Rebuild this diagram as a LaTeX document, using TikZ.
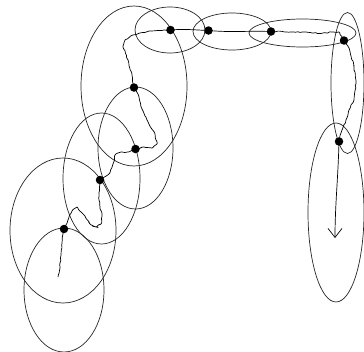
\documentclass[tikz,border=0pt]{standalone}
\usetikzlibrary{arrows.meta,decorations.pathmorphing}
\begin{document}
\begin{tikzpicture}[x=1pt,y=-1pt,
  region/.style={draw=black!85,line width=0.7pt},
  dot/.style={circle,fill=black,inner sep=0pt,minimum size=8.5pt},
  trail/.style={draw=black,line width=0.7pt,rounded corners=0.6pt,decorate,
     decoration={random steps,segment length=2.2pt,amplitude=0.6pt}},
  smoothtrail/.style={draw=black,line width=0.7pt}]
\useasboundingbox (0,0) rectangle (364,351);
\pgfmathsetseed{7}
% regions
\draw[region] (134,86) ellipse [x radius=53, y radius=80];
\draw[region] (135.5,148) ellipse [x radius=37.5, y radius=61];
\draw[region] (101.5,178.5) ellipse [x radius=38.5, y radius=65.5];
\draw[region] (63,230.5) ellipse [x radius=53, y radius=72.5];
\draw[region] (64,290) ellipse [x radius=40, y radius=62];
\draw[region] (170,30) ellipse [x radius=35, y radius=23];
\draw[region] (232,31.5) ellipse [x radius=39, y radius=18.5];
\draw[region] (302.5,33) ellipse [x radius=53.5, y radius=14];
\draw[region] (347.5,83) ellipse [x radius=16.5, y radius=70.5];
\draw[region] (336,212.5) ellipse [x radius=28, y radius=89.5];
% measurements
\node[dot] (d9) at (64,229) {};
\node[dot] (d8) at (100,180) {};
\node[dot] (d7) at (135.5,149) {};
\node[dot] (d6) at (134,87.5) {};
\node[dot] (d1) at (170.5,30) {};
\node[dot] (d2) at (208.5,30.5) {};
\node[dot] (d3) at (271,31.5) {};
\node[dot] (d4) at (344,40.5) {};
\node[dot] (d5) at (339,141.5) {};
\coordinate (start) at (58,277);
\coordinate (tip) at (335,238);
% trajectory
\draw[trail] (start) -- (60,268) -- (61,255) -- (62,243) -- (d9.center);
\draw[trail] (d9.center) -- (68,220) -- (72,211) -- (77,207) -- (83,214) -- (90,224) -- (96,227) -- (101,224) -- (102,216) -- (100,207) -- (99,193) -- (d8.center);
\draw[trail] (d8.center) -- (109,174) -- (113,164) -- (115,155) -- (121,152) -- (128,152) -- (d7.center);
\draw[trail] (d7.center) -- (143,147) -- (152,148) -- (157,144) -- (155,134) -- (147,120) -- (142,109) -- (139,97) -- (d6.center);
\draw[trail] (d6.center) -- (132,75) -- (128,60) -- (123,47) -- (125,40) -- (133,35) -- (140,33) -- (152,31) -- (d1.center);
\draw[smoothtrail] (d1.center) to[out=5,in=178] (d2.center);
\draw[smoothtrail] (d2.center) to[out=-5,in=178] (d3.center);
\draw[trail] (d3.center) -- (293,32) -- (310,32.5) -- (320,33.5) -- (333,32) -- (339,32) -- (d4.center);
\draw[trail] (d4.center) -- (349,48) -- (354,67) -- (356,83) -- (354,100) -- (349,110) -- (346,120) -- (341,133) -- (d5.center);
\draw[smoothtrail,-{Straight Barb[length=9pt,width=14pt]}] (d5.center) .. controls (338,180) and (335,205) .. (tip);
\end{tikzpicture}
\end{document}
